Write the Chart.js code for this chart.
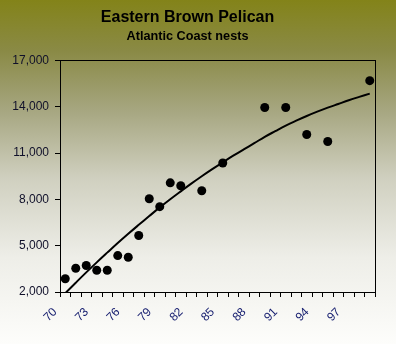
<!DOCTYPE html>
<html>
<head>
<meta charset="utf-8">
<script src="https://cdn.jsdelivr.net/npm/chart.js@4/dist/chart.umd.min.js"></script>
<style>
	html, body { margin: 0; padding: 0; }
	body {
		width: 396px;
		height: 344px;
		background: linear-gradient(to bottom, #838319 0%, #8a8a46 15%, #a6a680 32%, #d0d0c0 52%, #eeeee8 75%, #fdfdfb 100%);
	}
	#wrap { width: 396px; height: 344px; }
</style>
</head>
<body>
<div id="wrap"><canvas id="pelicanChart"></canvas></div>
<script>
// Years 1970 - 1999 (two digit labels)
const years = ['70','71','72','73','74','75','76','77','78','79','80','81','82','83','84',
	'85','86','87','88','89','90','91','92','93','94','95','96','97','98','99'];

// Nest counts (missing years left empty)
const nests = [2860, 3540, 3720, 3410, 3410, 4360, 4250, 5660, 8040, 7530, 9070, 8880, null, 8560, null,
	10360, null, null, null, 13950, null, 13950, null, 12200, null, 11750, null, null, null, 15690];

// Trend line
const trend = [1920, 2600, 3270, 3920, 4550, 5170, 5770, 6350, 6920, 7480, 8010, 8520, 9020, 9500, 9960,
	10400, 10830, 11240, 11640, 12050, 12420, 12780, 13100, 13400, 13680, 13940, 14180, 14420, 14640, 14850];

const yTicks = [2000, 5000, 8000, 11000, 14000, 17000];

// Box round the plot area
const frame = {
	id: 'frame',
	afterDraw(chart) {
		const a = chart.chartArea;
		const ctx = chart.ctx;
		ctx.save();
		ctx.strokeStyle = '#000';
		ctx.lineWidth = 1;
		ctx.strokeRect(Math.round(a.left) + 0.5, Math.round(a.top) + 0.5,
			Math.round(a.right - a.left), Math.round(a.bottom - a.top));
		ctx.restore();
	}
};

const ctx = document.getElementById('pelicanChart');
new Chart(ctx, {
	type: 'line',
	data: {
		labels: years,
		datasets: [{
			label: 'Nests',
			data: nests,
			showLine: false,
			pointRadius: 4.5,
			pointHoverRadius: 4.5,
			pointBackgroundColor: '#000',
			pointBorderColor: '#000',
			pointBorderWidth: 0
		}, {
			label: 'Trend',
			data: trend,
			borderColor: '#000',
			borderWidth: 2,
			tension: 0.4,
			pointRadius: 0,
			fill: false
		}]
	},
	options: {
		responsive: true,
		maintainAspectRatio: false,
		animation: false,
		layout: {
			padding: { left: 0, right: 21, top: 0, bottom: 0 }
		},
		plugins: {
			legend: { display: false },
			tooltip: { enabled: false },
			title: {
				display: true,
				text: 'Eastern Brown Pelican',
				color: '#000',
				font: { family: 'Arial, "Liberation Sans"', size: 16, weight: 'bold' },
				padding: { top: 8, bottom: 0 }
			},
			subtitle: {
				display: true,
				text: 'Atlantic Coast nests',
				color: '#000',
				font: { family: 'Arial, "Liberation Sans"', size: 12.7, weight: 'bold' },
				padding: { top: 2, bottom: 16 }
			}
		},
		scales: {
			x: {
				offset: true,
				grid: {
					offset: true,
					drawOnChartArea: false,
					color: '#000',
					lineWidth: 1,
					tickLength: 5,
					tickColor: '#000'
				},
				border: { color: '#000' },
				ticks: {
					autoSkip: false,
					minRotation: 45,
					maxRotation: 45,
					labelOffset: -10,
					padding: 8,
					color: '#141c6e',
					font: { family: 'Arial, "Liberation Sans"', size: 12 },
					callback: function(value, index) {
						return index % 3 === 0 ? years[index] : '';
					}
				},
				afterFit: function(scale) {
					scale.height = 52;
				}
			},
			y: {
				min: 2000,
				max: 17000,
				afterBuildTicks: function(scale) {
					scale.ticks = yTicks.map(v => ({ value: v }));
				},
				grid: {
					drawOnChartArea: false,
					color: '#000',
					tickLength: 5,
					tickColor: '#000'
				},
				border: { color: '#000' },
				ticks: {
					padding: 6,
					color: '#10102a',
					font: { family: 'Arial, "Liberation Sans"', size: 12 },
					callback: function(value) {
						return value.toLocaleString('en-US');
					}
				},
				afterFit: function(scale) {
					scale.width = 60;
				}
			}
		}
	},
	plugins: [frame]
});
</script>
</body>
</html>
